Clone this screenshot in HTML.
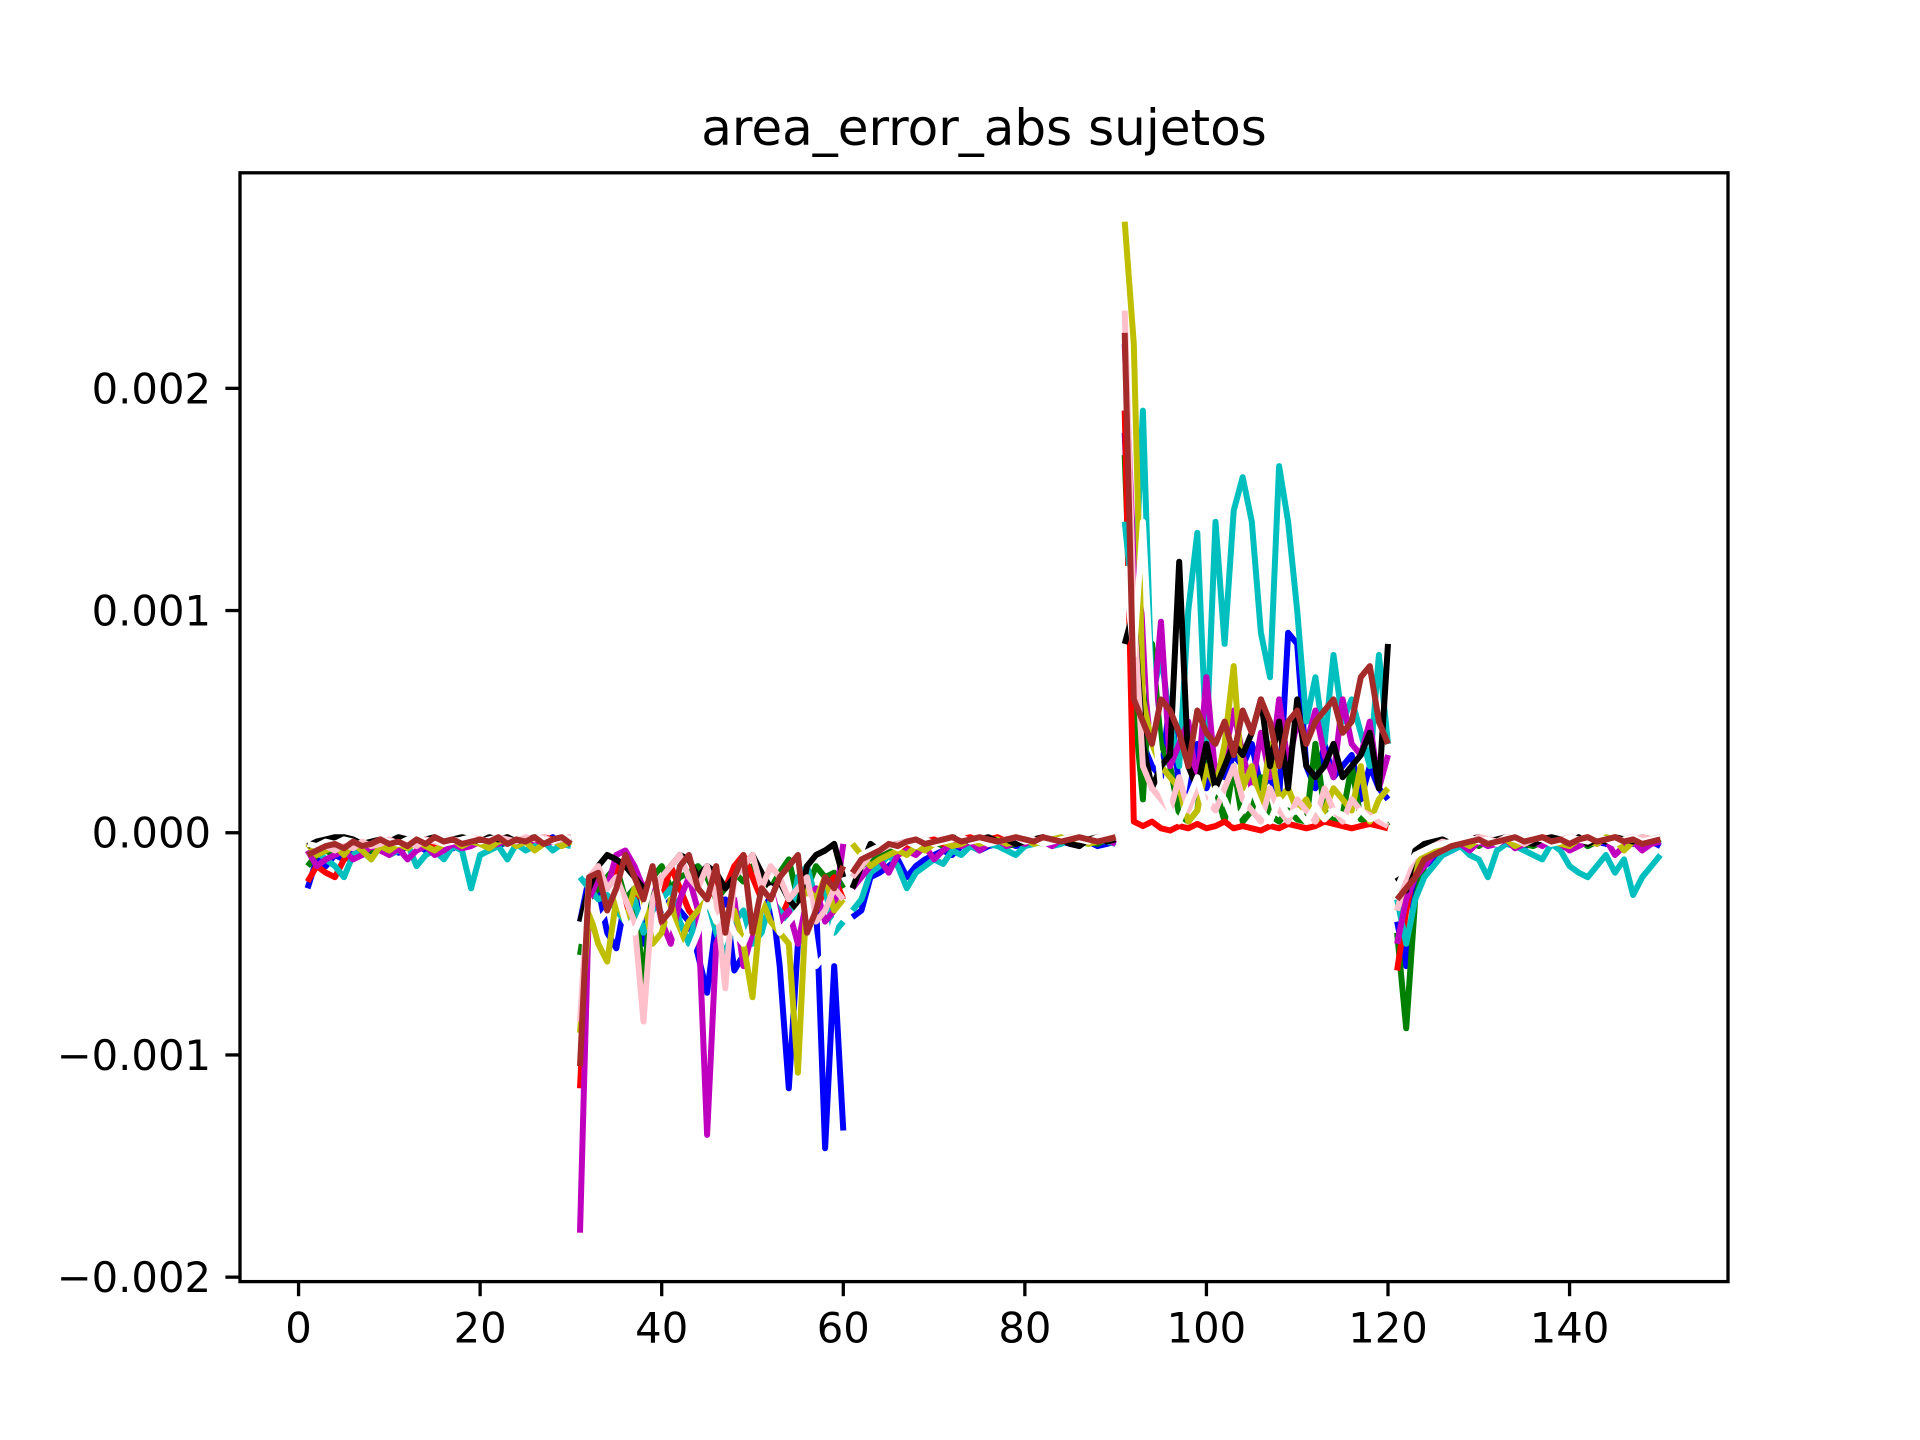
<!DOCTYPE html>
<html><head><meta charset="utf-8"><style>html,body{margin:0;padding:0;background:#fff}svg{display:block}text{font-family:"DejaVu Sans","Liberation Sans",sans-serif}</style></head>
<body>
<svg id="chart" xmlns="http://www.w3.org/2000/svg" width="1920" height="1440" viewBox="0 0 1920 1440">
<rect width="1920" height="1440" fill="#fff"/>
<text x="984" y="145" font-size="50" text-anchor="middle">area_error_abs sujetos</text>
<g id="plot"></g>
<g id="axes"></g>
</svg>
<script>
const xTicks = [0, 20, 40, 60, 80, 100, 120, 140];
const yTicks = [-0.002, -0.001, 0, 0.001, 0.002];
const yTickLabels = ["\u22120.002", "\u22120.001", "0.000", "0.001", "0.002"];
const seriesNames = ["blue","green","red","cyan","magenta","yellow","black","pink","white","brown"];
const seriesColors = ["#0000ff","#008000","#ff0000","#00bfbf","#bf00bf","#bfbf00","#000000","#ffc0cb","#ffffff","#a52a2a"];
// values in units of 1e-5, x = 1..150 (5 segments of 30)
const sBlue = [-25,-12,-15,-10,-12,-8,-10,-8,-6,-7,-9,-6,-5,-8,-6,-5,-7,-3,-4,-3,-5,-6,-4,-5,-3,-6,-4,-2,-5,-3,
-40,-20,-25,-45,-52,-30,-25,-50,-20,-35,-30,-35,-40,-55,-72,-40,-30,-62,-55,-40,-35,-25,-60,-115,-50,-40,-30,-142,-60,-134,
-38,-35,-20,-18,-15,-12,-20,-15,-12,-10,-8,-10,-6,-5,-8,-6,-5,-4,-6,-5,-4,-3,-5,-4,-5,-3,-4,-6,-5,-4,
180,80,40,30,25,60,20,15,40,20,30,25,35,30,40,20,25,15,90,85,30,20,40,25,30,35,15,30,20,15,
-40,-60,-25,-15,-12,-10,-8,-6,-5,-4,-3,-5,-4,-3,-6,-5,-4,-3,-5,-4,-3,-6,-4,-5,-3,-4,-5,-3,-4,-6];
const sGreen = [-15,-10,-8,-10,-7,-5,-6,-8,-5,-4,-6,-5,-3,-4,-6,-5,-4,-3,-5,-4,-3,-4,-5,-3,-4,-5,-3,-4,-3,-5,
-55,-30,-25,-20,-15,-30,-25,-70,-20,-15,-25,-20,-18,-15,-20,-30,-25,-18,-22,-15,-20,-25,-18,-12,-30,-25,-15,-20,-18,-25,
-20,-15,-12,-10,-8,-10,-6,-7,-5,-4,-6,-5,-3,-4,-5,-3,-4,-6,-5,-3,-4,-5,-3,-4,-2,-3,-4,-5,-3,-4,
170,60,15,85,40,30,8,5,10,40,20,5,30,5,10,25,8,5,10,6,5,40,10,5,8,30,6,5,8,3,
-45,-88,-30,-15,-10,-8,-6,-5,-4,-6,-3,-5,-4,-3,-5,-6,-4,-3,-4,-5,-3,-6,-4,-3,-5,-4,-3,-4,-5,-3];
const sRed = [-22,-15,-18,-20,-12,-10,-8,-6,-5,-8,-6,-4,-5,-3,-6,-4,-5,-3,-4,-5,-3,-4,-2,-5,-3,-4,-2,-3,-4,-3,
-115,-30,-20,-25,-15,-40,-30,-25,-20,-30,-15,-25,-35,-40,-30,-20,-25,-15,-10,-20,-30,-25,-40,-30,-25,-15,-35,-25,-20,-30,
-15,-12,-10,-8,-6,-5,-7,-5,-4,-3,-5,-4,-3,-2,-4,-3,-2,-4,-3,-5,-3,-2,-4,-3,-2,-3,-4,-2,-3,-2,
190,5,3,5,2,1,3,2,4,2,3,5,2,3,2,1,3,2,4,3,2,3,5,4,3,2,3,4,3,2,
-62,-35,-15,-10,-8,-6,-5,-4,-3,-2,-3,-4,-2,-3,-4,-3,-2,-3,-4,-2,-3,-2,-4,-3,-2,-3,-2,-4,-3,-2];
const sCyan = [-10,-8,-12,-15,-20,-10,-8,-12,-6,-10,-8,-5,-15,-10,-8,-12,-6,-8,-25,-10,-8,-6,-12,-5,-8,-6,-4,-8,-5,-6,
-20,-25,-30,-28,-35,-40,-30,-45,-35,-30,-25,-40,-50,-35,-30,-45,-55,-40,-35,-50,-45,-30,-35,-40,-20,-15,-30,-25,-45,-40,
-35,-30,-18,-15,-10,-15,-25,-18,-15,-12,-14,-8,-10,-6,-8,-5,-6,-8,-10,-6,-5,-4,-6,-5,-3,-4,-5,-3,-4,-5,
140,100,190,60,80,50,30,100,135,40,140,85,145,160,140,90,70,165,140,100,50,70,40,80,50,60,45,30,80,40,
-30,-50,-30,-20,-15,-10,-8,-6,-10,-12,-20,-8,-5,-6,-8,-10,-12,-5,-8,-15,-18,-20,-15,-10,-18,-12,-28,-20,-15,-10];
const sMagenta = [-8,-15,-12,-10,-8,-12,-10,-6,-8,-10,-7,-12,-8,-6,-10,-8,-5,-7,-6,-4,-6,-5,-3,-5,-4,-3,-5,-4,-3,-5,
-180,-30,-20,-25,-10,-8,-15,-25,-20,-40,-50,-30,-20,-35,-136,-50,-40,-30,-60,-45,-30,-25,-40,-35,-50,-30,-25,-40,-35,-5,
-25,-20,-15,-12,-18,-10,-8,-10,-6,-12,-8,-5,-6,-4,-8,-5,-3,-6,-4,-5,-3,-4,-6,-3,-4,-5,-3,-4,-3,-5,
220,120,95,50,95,30,40,50,20,70,25,35,55,35,20,45,25,60,30,50,40,55,35,25,60,40,35,50,20,35,
-50,-30,-20,-15,-10,-8,-6,-5,-8,-4,-6,-5,-3,-7,-5,-4,-6,-3,-5,-8,-6,-4,-5,-3,-10,-6,-4,-8,-5,-4];
const sYellow = [-5,-10,-8,-6,-10,-5,-8,-12,-6,-8,-5,-7,-4,-6,-8,-5,-3,-6,-4,-5,-7,-4,-3,-6,-4,-8,-5,-3,-6,-4,
-90,-35,-50,-58,-30,-40,-25,-30,-50,-45,-30,-50,-40,-35,-30,-40,-45,-35,-50,-74,-30,-40,-45,-50,-108,-25,-30,-20,-35,-30,
-5,-10,-15,-12,-10,-8,-10,-6,-8,-5,-4,-6,-5,-3,-5,-4,-3,-5,-4,-3,-5,-4,-3,-2,-4,-3,-5,-4,-3,-2,
275,220,60,40,30,25,20,5,10,30,20,40,75,20,30,10,40,15,20,10,15,5,10,20,15,10,30,5,15,20,
-35,-20,-15,-10,-8,-6,-5,-4,-6,-3,-5,-4,-3,-6,-4,-5,-3,-4,-5,-6,-3,-4,-5,-2,-3,-8,-4,-2,-3,-2];
const sBlack = [-6,-4,-3,-2,-2,-3,-5,-4,-3,-4,-2,-3,-5,-3,-2,-4,-3,-2,-3,-4,-2,-3,-2,-4,-3,-2,-3,-4,-3,-2,
-40,-25,-15,-10,-12,-15,-20,-25,-30,-20,-15,-10,-12,-20,-15,-18,-25,-20,-15,-10,-18,-25,-22,-30,-35,-15,-10,-8,-5,-20,
-25,-15,-5,-8,-6,-5,-4,-6,-3,-5,-4,-2,-3,-4,-3,-2,-4,-3,-5,-4,-3,-2,-4,-3,-5,-6,-3,-2,-4,-3,
85,100,40,20,30,35,122,30,20,40,20,30,40,35,45,60,30,50,20,60,30,25,30,40,25,30,35,45,20,85,
-20,-26,-8,-5,-4,-3,-5,-4,-3,-2,-4,-3,-2,-3,-4,-5,-3,-2,-3,-4,-2,-5,-3,-4,-2,-3,-4,-2,-3,-2];
const sPink = [-10,-8,-6,-8,-5,-7,-4,-6,-5,-3,-5,-4,-6,-3,-4,-5,-3,-4,-2,-3,-4,-2,-3,-4,-2,-3,-2,-4,-3,-2,
-85,-20,-15,-25,-20,-30,-40,-85,-30,-20,-15,-10,-20,-25,-15,-30,-70,-20,-15,-10,-25,-15,-20,-30,-25,-20,-40,-35,-25,-30,
-20,-15,-10,-8,-6,-5,-4,-6,-3,-5,-4,-3,-2,-4,-3,-5,-4,-3,-2,-4,-3,-5,-4,-3,-2,-3,-4,-2,-3,-2,
235,100,30,20,15,10,25,10,20,15,10,20,30,15,10,5,20,10,5,15,10,5,20,10,5,15,10,8,5,3,
-35,-20,-10,-8,-6,-4,-5,-3,-4,-2,-3,-4,-2,-3,-5,-3,-2,-4,-3,-2,-3,-4,-2,-3,-2,-4,-3,-2,-3,-2];
const sWhite = [-5,-6,-4,-5,-3,-4,-6,-5,-3,-4,-5,-3,-2,-4,-3,-5,-4,-3,-2,-4,-3,-2,-5,-3,-4,-2,-3,-4,-2,-3,
-50,-30,-40,-35,-25,-40,-45,-35,-20,-30,-40,-50,-55,-45,-30,-40,-35,-45,-50,-40,-30,-25,-45,-40,-35,-30,-60,-55,-40,-35,
-15,-10,-8,-6,-5,-7,-4,-6,-3,-5,-4,-3,-2,-4,-3,-5,-4,-3,-2,-4,-3,-5,-4,-3,-2,-3,-4,-2,-3,-2,
120,80,140,60,20,10,5,15,25,10,20,15,5,10,20,10,5,15,8,10,5,12,6,10,8,5,10,6,8,5,
-25,-15,-10,-8,-6,-5,-4,-3,-2,-4,-3,-5,-2,-3,-4,-2,-3,-5,-4,-2,-3,-4,-2,-3,-5,-3,-2,-4,-3,-2];
const sBrown = [-10,-8,-6,-5,-7,-4,-6,-5,-3,-5,-4,-6,-3,-5,-2,-4,-3,-5,-4,-3,-4,-2,-5,-3,-4,-2,-5,-3,-2,-5,
-105,-20,-18,-35,-25,-10,-20,-30,-15,-40,-35,-15,-10,-25,-30,-15,-45,-20,-10,-45,-25,-30,-20,-15,-10,-45,-35,-20,-25,-15,
-18,-12,-10,-8,-5,-6,-4,-3,-5,-4,-3,-2,-4,-3,-2,-3,-4,-3,-2,-3,-4,-2,-3,-4,-3,-2,-3,-4,-3,-2,
225,60,50,40,60,55,45,30,55,45,40,50,35,55,45,60,50,30,50,55,40,50,55,60,45,50,70,75,50,40,
-30,-25,-20,-12,-10,-8,-6,-5,-4,-3,-5,-4,-3,-2,-4,-3,-2,-4,-3,-5,-3,-2,-4,-3,-2,-4,-3,-5,-4,-3];
const allSeries = [sBlue,sGreen,sRed,sCyan,sMagenta,sYellow,sBlack,sPink,sWhite,sBrown];

const NS = "http://www.w3.org/2000/svg";
const L = 240, R = 1728, T = 172.8, B = 1281.6;
const xMin = -6.45, xMax = 157.45, yMin = -0.00202, yMax = 0.00297;
function xs(v){ return L + (v - xMin) / (xMax - xMin) * (R - L); }
function ys(v){ return B - (v - yMin) / (yMax - yMin) * (B - T); }

const plot = document.getElementById('plot');
const clip = document.createElementNS(NS,'clipPath'); clip.setAttribute('id','clp');
const cr = document.createElementNS(NS,'rect');
cr.setAttribute('x',L); cr.setAttribute('y',T); cr.setAttribute('width',R-L); cr.setAttribute('height',B-T);
clip.appendChild(cr); document.getElementById('chart').appendChild(clip);
plot.setAttribute('clip-path','url(#clp)');

allSeries.forEach((arr, si) => {
  for (let seg = 0; seg < 5; seg++) {
    let d = '';
    for (let i = seg*30; i < seg*30+30; i++) {
      const x = i + 1, v = arr[i] * 1e-5;
      d += (i === seg*30 ? 'M' : 'L') + xs(x).toFixed(1) + ' ' + ys(v).toFixed(1);
    }
    const p = document.createElementNS(NS,'path');
    
    
    p.setAttribute('d', d);
    p.setAttribute('fill','none');
    p.setAttribute('stroke', seriesColors[si]);
    p.setAttribute('stroke-width','6');
    p.setAttribute('stroke-linejoin','round');
    plot.appendChild(p);
  }
});

const axes = document.getElementById('axes');
const frame = document.createElementNS(NS,'rect');


frame.setAttribute('x',L); frame.setAttribute('y',T); frame.setAttribute('width',R-L); frame.setAttribute('height',B-T);
frame.setAttribute('fill','none'); frame.setAttribute('stroke','#000'); frame.setAttribute('stroke-width','3.3');
axes.appendChild(frame);

xTicks.forEach(t => {
  const X = xs(t);
  const ln = document.createElementNS(NS,'line');
  
  
  ln.setAttribute('x1',X); ln.setAttribute('x2',X); ln.setAttribute('y1',B); ln.setAttribute('y2',B+14.6);
  ln.setAttribute('stroke','#000'); ln.setAttribute('stroke-width','3.3');
  axes.appendChild(ln);
  const tx = document.createElementNS(NS,'text');
  
  
  tx.setAttribute('x',X); tx.setAttribute('y',B+61); tx.setAttribute('font-size','41.7'); tx.setAttribute('text-anchor','middle');
  tx.textContent = String(t);
  axes.appendChild(tx);
});
yTicks.forEach((t, i) => {
  const Y = ys(t);
  const ln = document.createElementNS(NS,'line');
  
  
  ln.setAttribute('x1',L-14.6); ln.setAttribute('x2',L); ln.setAttribute('y1',Y); ln.setAttribute('y2',Y);
  ln.setAttribute('stroke','#000'); ln.setAttribute('stroke-width','3.3');
  axes.appendChild(ln);
  const tx = document.createElementNS(NS,'text');
  
  
  tx.setAttribute('x',L-29); tx.setAttribute('y',Y+15); tx.setAttribute('font-size','41.7'); tx.setAttribute('text-anchor','end');
  tx.textContent = yTickLabels[i];
  axes.appendChild(tx);
});
</script>
</body></html>
